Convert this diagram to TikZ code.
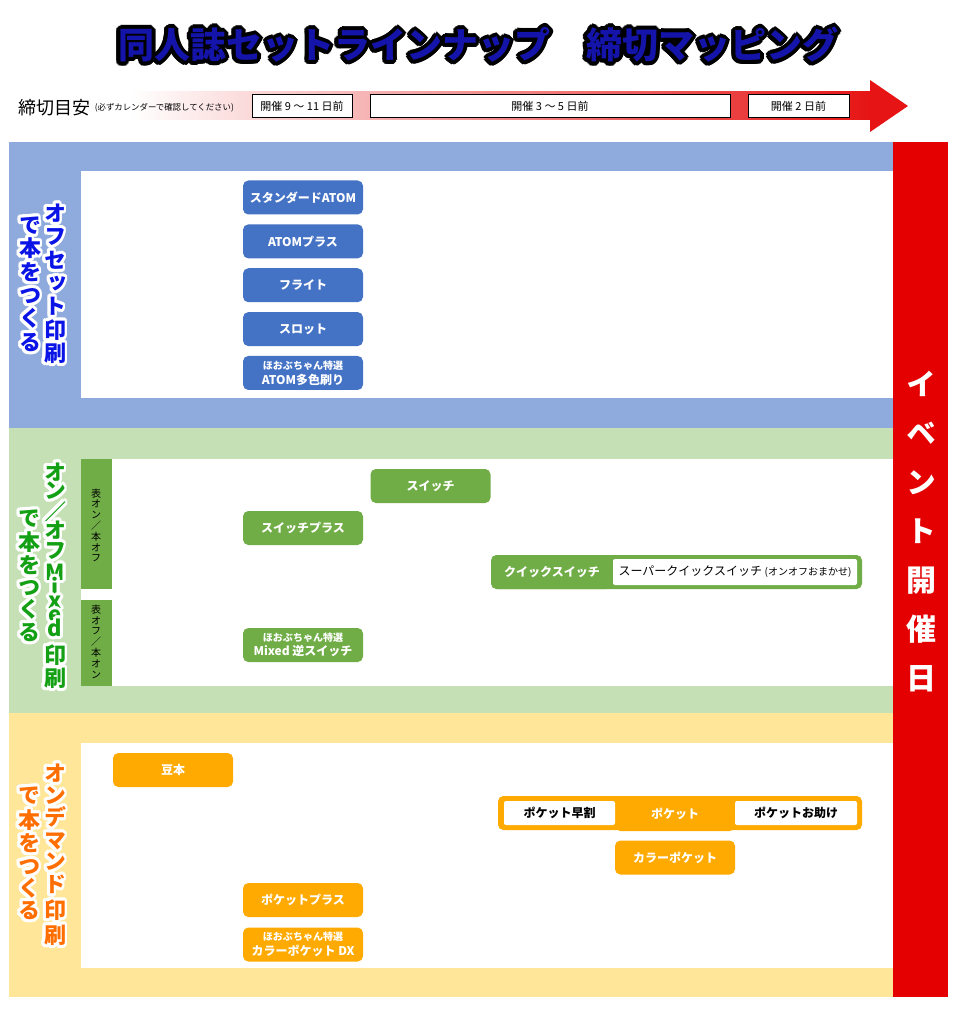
\documentclass[tikz,border=0pt]{standalone}
\usepackage{fontspec}
\newfontfamily\jp{Noto Sans CJK JP}
\newfontfamily\jpv{Noto Sans CJK JP}[RawFeature=+vert]
\usetikzlibrary{positioning}

\definecolor{titleblue}{RGB}{20,20,170}
\definecolor{arrowred}{RGB}{230,20,20}
\definecolor{eventred}{RGB}{228,0,0}
\definecolor{offband}{HTML}{8FAADC}
\definecolor{offblue}{HTML}{4472C4}
\definecolor{mixband}{HTML}{C5E0B4}
\definecolor{mixgreen}{HTML}{70AD47}
\definecolor{odband}{HTML}{FFE699}
\definecolor{odorange}{HTML}{FFAA00}
\definecolor{labblue}{RGB}{10,20,230}
\definecolor{labgreen}{RGB}{20,160,20}
\definecolor{laborange}{RGB}{255,110,0}

% 带描边的文字: [描边宽] {名} {位置} {样式} {字色} {描边色} {文字}
\newcommand{\rimtext}[7][2.2pt]{%
  \foreach \ang in {0,22.5,...,337.5}
    \node[#4, text=#6, shift={(\ang:#1)}] at (#3) {#7};
  \node[#4, text=#5] (#2) at (#3) {#7};
}
\newcommand{\subline}{\fontsize{7.5}{11}\selectfont}

\begin{document}
\begin{tikzpicture}[x=0.75pt, y=-0.75pt,
    plan/.style={rounded corners=4pt, minimum width=90pt, minimum height=25.5pt,
      inner sep=0pt, text=white, align=center, font=\jp\bfseries\fontsize{9}{11}\selectfont},
    atom/.style={plan, fill=offblue},
    sw/.style={plan, fill=mixgreen},
    od/.style={plan, fill=odorange},
    inbox/.style={inner sep=0pt, text=black, font=\jp\bfseries\fontsize{9}{11}\selectfont},
    datebox/.style={draw=black, line width=0.75pt, fill=white, minimum height=17.25pt,
      inner sep=0pt, font=\jp\fontsize{8.25}{10}\selectfont},
    vlab/.style={font=\jpv\bfseries\fontsize{16.5}{16.5}\selectfont, inner sep=0pt,
      text height=14.5pt, text depth=2pt},
    tabtext/.style={font=\jp\fontsize{7.5}{8.1}\selectfont, align=center, inner sep=0pt}]
    \useasboundingbox (0,0) rectangle (958,1016);

    % 标题
    \rimtext[3pt]{title}{478,45}{font=\jp\bfseries\fontsize{27}{27}\selectfont, inner sep=0pt}{titleblue}{black}{同人誌セットラインナップ　締切マッピング}

    % 截止时间轴 (渐变带 + 箭头)
    \shade[left color=white, right color=arrowred] (130,92) rectangle (872,120);
    \fill[arrowred] (870,80) -- (908,106) -- (870,132) -- cycle;
    \node[anchor=west, inner sep=0pt, font=\jp\fontsize{13.5}{14}\selectfont] (meyasu) at (18,108) {締切目安};
    \node[right=3pt of meyasu, inner sep=0pt, font=\jp\fontsize{6.3}{7}\selectfont] (note) {(必ずカレンダーで確認してください)};
    \node[datebox, minimum width=75pt] (d911) at (302,106.5) {開催 9 ～ 11 日前};
    \node[datebox, minimum width=270pt] (d35) at (550,106.5) {開催 3 ～ 5 日前};
    \node[datebox, minimum width=75.75pt] (d2) at (798.5,106.5) {開催 2 日前};

    % 三个区域
    \fill[offband] (9,142) rectangle (893,428);
    \fill[white] (81,171) rectangle (893,398);
    \fill[mixband] (9,428) rectangle (893,713);
    \fill[white] (81,459) rectangle (893,686);
    \fill[odband] (9,713) rectangle (893,997);
    \fill[white] (81,743) rectangle (893,968);

    % 右侧 活动日
    \fill[eventred] (893,142) rectangle (948,997);
    \node[font=\jpv\bfseries\fontsize{22.5}{36.75}\selectfont, text=white, align=center, inner sep=0pt] (event) at (921,532) {イ\\ベ\\ン\\ト\\開\\催\\日};

    % 竖排标题: 胶印
    \foreach \yy/\ch [count=\i] in {213/オ,236/フ,260/セ,283/ッ,306/ト,330/印,353/刷}
      {\rimtext{offR\i}{55,\yy}{vlab}{labblue}{white}{\ch}}
    \foreach \yy/\ch [count=\i] in {225/で,248/本,272/を,295/つ,318/く,342/る}
      {\rimtext{offL\i}{30,\yy}{vlab}{labblue}{white}{\ch}}

    % 竖排标题: 混合印刷
    \foreach \yy/\ch [count=\i] in {472/オ,490/ン,512/{\jp ／},530/オ,550/フ,572/M,587/i,600/x,614/e,628/d,655/印,678/刷}
      {\rimtext{mixR\i}{55,\yy}{vlab}{labgreen}{white}{\ch}}
    \foreach \yy/\ch [count=\i] in {518/で,542/本,565/を,587/つ,609/く,632/る}
      {\rimtext{mixL\i}{29,\yy}{vlab}{labgreen}{white}{\ch}}

    % 竖排标题: 按需印刷
    \foreach \yy/\ch [count=\i] in {773/オ,795/ン,817/デ,840/マ,861/ン,884/ド,910/印,935/刷}
      {\rimtext{odR\i}{55,\yy}{vlab}{laborange}{white}{\ch}}
    \foreach \yy/\ch [count=\i] in {795/で,820/本,843/を,866/つ,888/く,910/る}
      {\rimtext{odL\i}{29,\yy}{vlab}{laborange}{white}{\ch}}

    % 胶印 套餐
    \node[atom] (std) at (303,197.5) {スタンダードATOM};
    \node[atom, below=7pt of std] (plus) {ATOMプラス};
    \node[atom, below=7pt of plus] (flight) {フライト};
    \node[atom, below=7pt of flight] (slot) {スロット};
    \node[atom, below=7pt of slot] (multi) {{\subline ほおぶちゃん特選}\\ATOM多色刷り};

    % 混合印刷 分栏
    \fill[mixgreen] (81,459) rectangle (112,589);
    \fill[mixgreen] (81,600) rectangle (112,686);
    \node[tabtext] (tabon) at (96,525.5) {表\\オ\\ン\\／\\本\\オ\\フ};
    \node[tabtext] (taboff) at (96,641.5) {表\\オ\\フ\\／\\本\\オ\\ン};

    % 混合印刷 套餐
    \node[sw] (switch) at (430.5,486) {スイッチ};
    \node[sw] (swplus) at (303,528) {スイッチプラス};
    \fill[mixgreen, rounded corners=4pt] (491,555) rectangle (862,589);
    \node[sw] (quick) at (552,572) {クイックスイッチ};
    \fill[white, rounded corners=1.5pt] (613,559) rectangle (857,585);
    \node[inbox, font=\jp\fontsize{9}{11}\selectfont] (super) at (735,572) {スーパークイックスイッチ {\fontsize{7.5}{9}\selectfont (オンオフおまかせ)}};
    \node[sw] (mixrev) at (303,645) {{\subline ほおぶちゃん特選}\\Mixed 逆スイッチ};

    % 按需印刷 套餐
    \node[od] (mame) at (173,770) {豆本};
    \fill[odorange, rounded corners=4pt] (498,796) rectangle (862,830);
    \node[od] (pocket) at (675,814) {ポケット};
    \fill[white, rounded corners=1.5pt] (504,801) rectangle (615,825);
    \fill[white, rounded corners=1.5pt] (735,801) rectangle (857,825);
    \node[inbox] (early) at (559.5,813) {ポケット早割};
    \node[inbox] (help) at (796,813) {ポケットお助け};
    \node[od, below=6.75pt of pocket] (colorp) {カラーポケット};
    \node[od] (pplus) at (303,900) {ポケットプラス};
    \node[od, below=7.5pt of pplus] (cpdx) {{\subline ほおぶちゃん特選}\\カラーポケット DX};
\end{tikzpicture}
\end{document}
